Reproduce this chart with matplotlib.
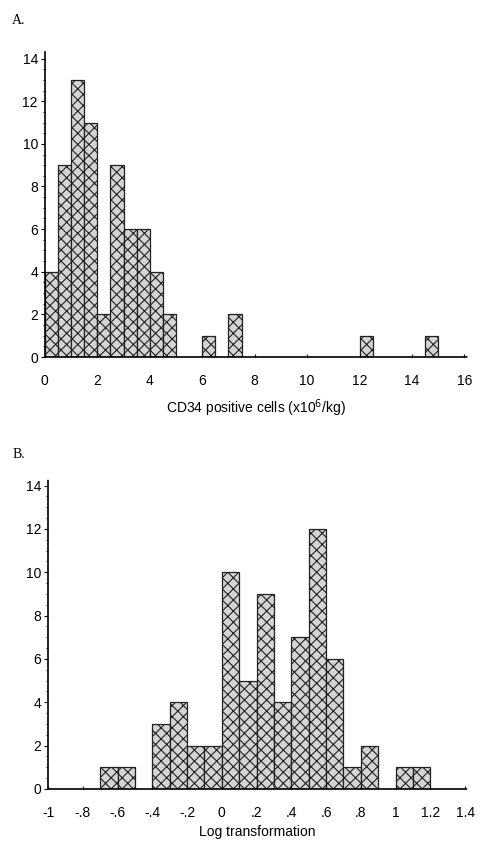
import matplotlib.pyplot as plt
import numpy as np

plt.rcParams['font.family'] = ['Liberation Sans', 'DejaVu Sans']
plt.rcParams['hatch.color'] = '#333333'
plt.rcParams['hatch.linewidth'] = 0.8

# panel A: CD34 positive cells, bins of width 0.5
a_left = [0, 0.5, 1, 1.5, 2, 2.5, 3, 3.5, 4, 4.5, 6, 7, 12, 14.5]
a_count = [4, 9, 13, 11, 2, 9, 6, 6, 4, 2, 1, 2, 1, 1]
a_ticks = [0, 2, 4, 6, 8, 10, 12, 14, 16]
a_ticklabels = ['0', '2', '4', '6', '8', '10', '12', '14', '16']

# panel B: log transformation, bins of width 0.1
b_left = [-0.7, -0.6, -0.4, -0.3, -0.2, -0.1, 0.0, 0.1, 0.2, 0.3, 0.4, 0.5, 0.6, 0.7, 0.8, 1.0, 1.1]
b_count = [1, 1, 3, 4, 2, 2, 10, 5, 9, 4, 7, 12, 6, 1, 2, 1, 1]
b_ticks = [-1, -0.8, -0.6, -0.4, -0.2, 0, 0.2, 0.4, 0.6, 0.8, 1, 1.2, 1.4]
b_ticklabels = ['-1', '-.8', '-.6', '-.4', '-.2', '0', '.2', '.4', '.6', '.8', '1', '1.2', '1.4']

y_ticks = [0, 2, 4, 6, 8, 10, 12, 14]


def style_axis(ax, xlim, xticks, xlabels, xlabel, labelpad):
    ax.set_xlim(*xlim)
    ax.set_ylim(0, 14.3)
    ax.set_xticks(xticks)
    ax.set_xticklabels(xlabels, fontsize=10)
    ax.set_yticks(y_ticks)
    ax.set_yticklabels([str(t) for t in y_ticks], fontsize=10)
    ax.set_yticks(np.arange(0, 14.5, 0.5), minor=True)
    ax.tick_params(axis='y', which='major', length=3, direction='out', pad=2)
    ax.tick_params(axis='y', which='minor', length=1.5, direction='out')
    ax.tick_params(axis='x', length=2, direction='in', pad=12)
    for s in ['top', 'right']:
        ax.spines[s].set_visible(False)
    for s in ['left', 'bottom']:
        ax.spines[s].set_linestyle((0, (1, 1)))
        ax.spines[s].set_linewidth(1.2)
    ax.set_xlabel(xlabel, fontsize=10, labelpad=labelpad)


fig = plt.figure(figsize=(4.82, 8.42), dpi=100)

ax1 = fig.add_axes([0.093, 0.576, 0.876, 0.362])
ax1.bar(a_left, a_count, width=0.5, align='edge', color='#d4d4d4',
        edgecolor='#222222', linewidth=0.9, hatch='xxx')
style_axis(ax1, (0, 16.1), a_ticks, a_ticklabels,
           r'CD34 positive cells (x10$^6$/kg)', 7)

ax2 = fig.add_axes([0.0996, 0.063, 0.869, 0.368])
ax2.bar(b_left, b_count, width=0.1, align='edge', color='#d4d4d4',
        edgecolor='#222222', linewidth=0.9, hatch='xxx')
style_axis(ax2, (-1, 1.41), b_ticks, b_ticklabels, 'Log transformation', 4)

fig.text(0.025, 0.972, 'A.', fontsize=10, family='Liberation Serif')
fig.text(0.025, 0.456, 'B.', fontsize=10, family='Liberation Serif')

fig.savefig('out.png', dpi=100)
